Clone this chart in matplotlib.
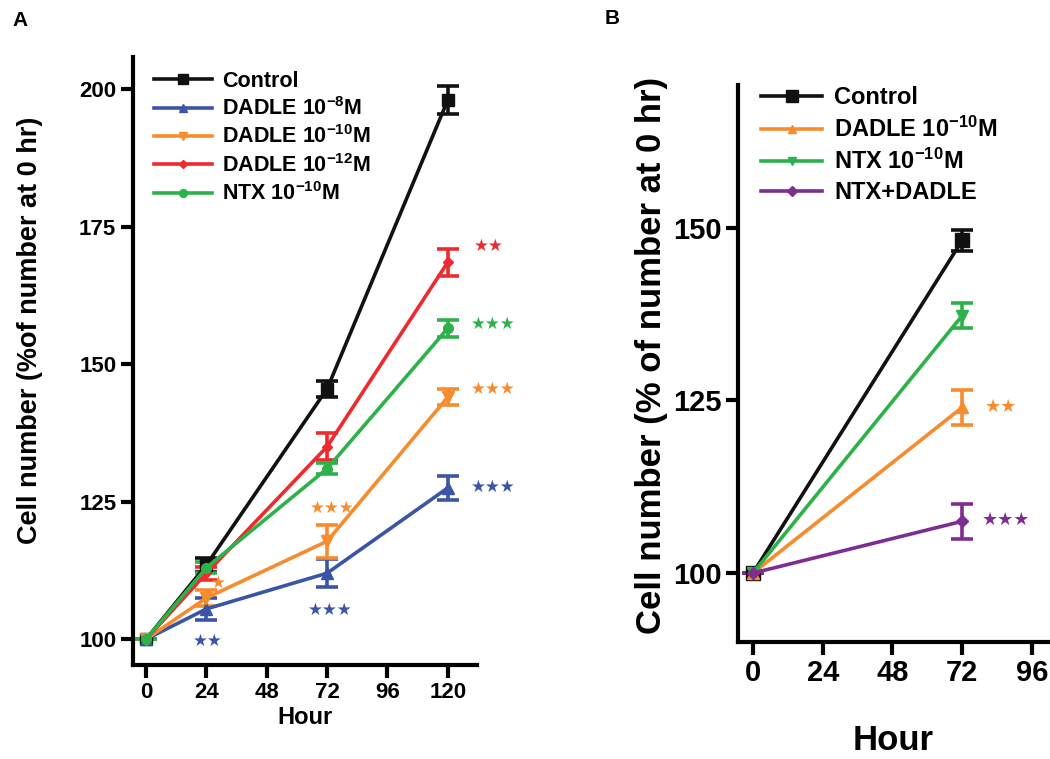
import matplotlib
matplotlib.use("Agg")
import matplotlib.pyplot as plt
from matplotlib.lines import Line2D

plt.rcParams['font.family'] = ['Liberation Sans', 'DejaVu Sans']
plt.rcParams['font.weight'] = 'bold'
plt.rcParams['mathtext.fontset'] = 'custom'
plt.rcParams['mathtext.rm'] = 'Liberation Sans:bold'
plt.rcParams['mathtext.bf'] = 'Liberation Sans:bold'
plt.rcParams['mathtext.default'] = 'bf'

# ---------------- data: panel A ----------------
hours_a = [0, 24, 72, 120]
a_labels = ['Control', 'DADLE 10$^{-8}$M', 'DADLE 10$^{-10}$M', 'DADLE 10$^{-12}$M', 'NTX 10$^{-10}$M']
a_control = [100, 113.5, 145.5, 198]
a_control_err = [0, 1.2, 1.5, 2.5]
a_dadle8 = [100, 105.5, 112, 127.5]
a_dadle8_err = [0, 2.0, 2.5, 2.2]
a_dadle10 = [100, 107.5, 117.8, 144]
a_dadle10_err = [0, 1.5, 3.0, 1.5]
a_dadle12 = [100, 112, 135, 168.5]
a_dadle12_err = [0, 1.2, 2.5, 2.5]
a_ntx = [100, 113, 131, 156.5]
a_ntx_err = [0, 1.0, 1.0, 1.5]
a_xticks = [0, 24, 48, 72, 96, 120]
a_yticks = [100, 125, 150, 175, 200]

# ---------------- data: panel B ----------------
hours_b = [0, 72]
b_labels = ['Control', 'DADLE 10$^{-10}$M', 'NTX 10$^{-10}$M', 'NTX+DADLE']
b_control = [100, 148.2]
b_control_err = [0, 1.5]
b_dadle10 = [100, 124]
b_dadle10_err = [0, 2.5]
b_ntx = [100, 137.3]
b_ntx_err = [0, 1.8]
b_combo = [100, 107.5]
b_combo_err = [0, 2.5]
b_xticks = [0, 24, 48, 72, 96]
b_yticks = [100, 125, 150]

# significance annotations (text, x, y, colour)
a_sig = [('★★', 136.5, 171.5, 'red'), ('★★★', 138, 157.3, 'green'),
         ('★★★', 138, 145.5, 'orange'), ('★★★', 138, 127.6, 'blue'),
         ('★★', 24.6, 99.6, 'blue'), ('★★★', 73.1, 105.3, 'blue'),
         ('★★★', 73.9, 123.8, 'orange'), ('★', 28.6, 110.2, 'orange')]
b_sig = [('★★', 85.5, 124, 'orange'), ('★★★', 87, 107.7, 'purple')]

colors = {'black': '#111111', 'blue': '#3a55a6', 'orange': '#f68c2e',
          'red': '#ee2a2e', 'green': '#2db24a', 'purple': '#7e2e8e'}

fig = plt.figure(figsize=(10.5, 7.59), dpi=100)
axA = fig.add_axes([0.1267, 0.1238, 0.3273, 0.801])
axB = fig.add_axes([0.703, 0.154, 0.295, 0.734])


def style(ax, xlim, ylim, xt, yt, fs):
    ax.set_xlim(*xlim)
    ax.set_ylim(*ylim)
    ax.set_xticks(xt)
    ax.set_yticks(yt)
    for s in ['top', 'right']:
        ax.spines[s].set_visible(False)
    for s in ['left', 'bottom']:
        ax.spines[s].set_linewidth(3)
    ax.tick_params(width=3, length=9, labelsize=fs, pad=3)
    for lab in ax.get_xticklabels() + ax.get_yticklabels():
        lab.set_fontweight('bold')


def series(ax, x, y, e, c, m, ms, label, handles):
    ax.errorbar(x, y, yerr=e, color=colors[c], marker=m, markersize=ms, lw=2.6,
                elinewidth=2.6, capsize=8, capthick=2.6)
    handles.append(Line2D([], [], color=colors[c], marker=m, markersize=ms * 0.8,
                          lw=2.6, label=label))


hA = []
series(axA, hours_a, a_control, a_control_err, 'black', 's', 9, a_labels[0], hA)
series(axA, hours_a, a_dadle8, a_dadle8_err, 'blue', '^', 8, a_labels[1], hA)
series(axA, hours_a, a_dadle10, a_dadle10_err, 'orange', 'v', 8, a_labels[2], hA)
series(axA, hours_a, a_dadle12, a_dadle12_err, 'red', 'D', 5, a_labels[3], hA)
series(axA, hours_a, a_ntx, a_ntx_err, 'green', 'o', 7, a_labels[4], hA)
style(axA, (-5.2, 131.5), (95.3, 205.8), a_xticks, a_yticks, 16)
axA.legend(handles=hA, loc='upper left', bbox_to_anchor=(0.016, 1.002), frameon=False,
           fontsize=15.5, handlelength=2.7, handletextpad=0.5, labelspacing=0.25,
           borderaxespad=0.3)
for t, x, y, c in a_sig:
    axA.text(x, y, t, color=colors[c], ha='center', va='center', fontsize=12,
             family='DejaVu Sans')

hB = []
series(axB, hours_b, b_control, b_control_err, 'black', 's', 10, b_labels[0], hB)
series(axB, hours_b, b_dadle10, b_dadle10_err, 'orange', '^', 8, b_labels[1], hB)
series(axB, hours_b, b_ntx, b_ntx_err, 'green', 'v', 8, b_labels[2], hB)
series(axB, hours_b, b_combo, b_combo_err, 'purple', 'D', 6, b_labels[3], hB)
style(axB, (-5.1, 101.5), (90, 170.7), b_xticks, b_yticks, 21)
axB.legend(handles=hB, loc='upper left', bbox_to_anchor=(0.02, 1.027), frameon=False,
           fontsize=17, handlelength=2.6, handletextpad=0.5, labelspacing=0.3,
           borderaxespad=0.3)
for t, x, y, c in b_sig:
    axB.text(x, y, t, color=colors[c], ha='center', va='center', fontsize=13,
             family='DejaVu Sans')

fig.text(20 / 1050, 1 - 20 / 759, 'A', fontsize=15, fontweight='bold', ha='center', va='center')
fig.text(612 / 1050, 1 - 18 / 759, 'B', fontsize=15, fontweight='bold', ha='center', va='center')
fig.text(305 / 1050, 1 - 718 / 759, 'Hour', fontsize=17, fontweight='bold', ha='center', va='center')
fig.text(893 / 1050, 1 - 740 / 759, 'Hour', fontsize=25, fontweight='bold', ha='center', va='center')
fig.text(30 / 1050, 1 - 330 / 759, 'Cell number (%of number at 0 hr)', fontsize=19.5,
         fontweight='bold', rotation=90, ha='center', va='center')
fig.text(652 / 1050, 1 - 355 / 759, 'Cell number (% of number at 0 hr)', fontsize=25,
         fontweight='bold', rotation=90, ha='center', va='center')

fig.savefig('out.png', dpi=100)
